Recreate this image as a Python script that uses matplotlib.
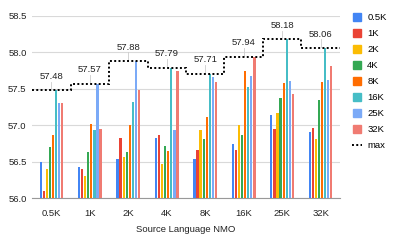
import matplotlib
matplotlib.use("Agg")
import matplotlib.pyplot as plt
from matplotlib.lines import Line2D
import numpy as np

plt.rcParams['font.family'] = ['Liberation Sans', 'DejaVu Sans']

# source language NMO groups on the x axis
groups = ["0.5K", "1K", "2K", "4K", "8K", "16K", "25K", "32K"]

# one series per target size
s_05k = [56.50, 56.43, 56.54, 56.82, 56.54, 56.75, 57.14, 56.91]
s_1k = [56.10, 56.40, 56.82, 56.87, 56.66, 56.66, 56.95, 56.96]
s_2k = [56.40, 56.30, 56.57, 56.47, 56.94, 57.00, 57.17, 56.81]
s_4k = [56.70, 56.63, 56.64, 56.71, 56.81, 56.87, 57.37, 57.35]
s_8k = [56.87, 57.02, 57.00, 56.65, 57.12, 57.74, 57.58, 57.59]
s_16k = [57.48, 56.93, 57.32, 57.79, 57.71, 57.52, 58.18, 58.06]
s_25k = [57.31, 57.57, 57.88, 56.93, 57.66, 57.67, 57.61, 57.62]
s_32k = [57.30, 56.95, 57.48, 57.75, 57.59, 57.94, 57.43, 57.82]

series = [("0.5K", s_05k), ("1K", s_1k), ("2K", s_2k), ("4K", s_4k),
          ("8K", s_8k), ("16K", s_16k), ("25K", s_25k), ("32K", s_32k)]
colors = ["#4285F4", "#EA4335", "#FBBC04", "#34A853",
          "#FF6D01", "#46BDC6", "#7BAAF7", "#F07B72"]

max_vals = np.max(np.array([s for _, s in series]), axis=0)

fig = plt.figure(figsize=(3.97, 2.45), dpi=100)
ax = fig.add_axes([0.081, 0.191, 0.775, 0.744])

x = np.arange(len(groups))
pitch = 0.08
width = 0.058
for i, (name, vals) in enumerate(series):
    off = (i - 3.5) * pitch
    ax.bar(x + off, np.array(vals) - 56.0, width, bottom=56.0,
           color=colors[i], label=name, zorder=3)

# stepped max line
ax.stairs(max_vals, np.arange(-0.5, len(groups)), baseline=None,
          color="black", linestyle=(0, (1, 1.2)), linewidth=1.4, zorder=4)

for xi, m in zip(x, max_vals):
    ax.plot([xi, xi], [m + 0.01, m + 0.12], color="#cccccc", lw=0.6, zorder=2)
    ax.text(xi, m + 0.13, f"{m:.2f}", ha="center", va="bottom",
            fontsize=6.8, color="#222222")

ax.set_xlim(-0.5, len(groups) - 0.5)
ax.set_ylim(56.0, 58.5)
ax.set_yticks([56.0, 56.5, 57.0, 57.5, 58.0, 58.5])
ax.set_yticklabels([f"{v:.1f}" for v in ax.get_yticks()])
ax.set_xticks(x)
ax.set_xticklabels(groups)
ax.tick_params(axis="both", length=0, labelsize=6.8, colors="#222222")
ax.tick_params(axis="x", pad=8)
ax.tick_params(axis="y", pad=4)
ax.grid(axis="y", color="#d9d9d9", linewidth=0.8, zorder=0)
for sp in ["top", "right", "left"]:
    ax.spines[sp].set_visible(False)
ax.spines["bottom"].set_color("#999999")
ax.spines["bottom"].set_linewidth(0.8)
ax.set_xlabel("Source Language NMO", fontsize=6.8, color="#222222", labelpad=5)

handles = [Line2D([], [], marker="s", linestyle="none", markersize=5.5,
                  color=c) for c in colors]
handles.append(Line2D([], [], color="black", linestyle=(0, (1, 1.2)), lw=1.4))
labels = [n for n, _ in series] + ["max"]
fig.legend(handles, labels, loc="upper left", bbox_to_anchor=(0.875, 0.965),
           frameon=False, fontsize=6.8, handlelength=1.0, handletextpad=0.6,
           labelspacing=0.74, borderpad=0)

fig.savefig("out.png", dpi=100)
